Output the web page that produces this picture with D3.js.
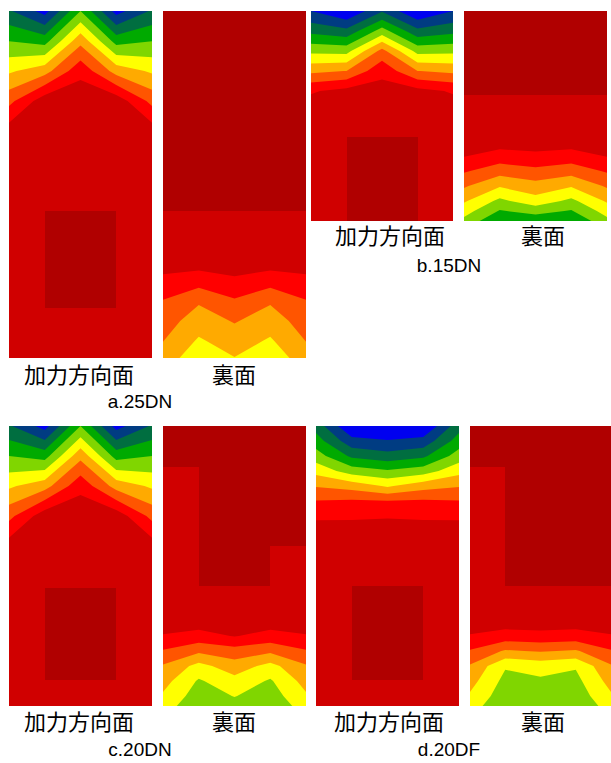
<!DOCTYPE html>
<html>
<head>
<meta charset="utf-8">
<script src="https://cdn.jsdelivr.net/npm/d3@7"></script>
<style>
  html, body { margin: 0; padding: 0; background: #fff; }
  svg { display: block; }
</style>
</head>
<body>
<script>
// Colour of each band, from the lowest level (0) to the peak level (10)
const bandColors = ["#0000f0", "#003c82", "#006e40", "#00aa00", "#80d600", "#ffff00",
                    "#ffaa00", "#ff5500", "#ff0000", "#d00000", "#b00000"];
const bandLevels = [1, 2, 3, 4, 5, 6, 7, 8, 9];

// Node columns across the specimen face (mm)
const nodeX = [0, 25, 50, 75, 100];

const caseLabels = ["a.25DN", "b.15DN", "c.20DN", "d.20DF"];
const faceLabels = ["加力方向面", "裏面"];
const specimenHeights = [250, 150, 200, 200];

// ---- a.25DN ----
const rowsA1 = [0, 21.6, 43.2, 64.8, 86.5, 108.1, 250];
const valsA1 = [
  [2.13, 0.6, 4.0, 0.6, 2.13],
  [3.99, 3.6, 6.69, 3.6, 3.99],
  [5.84, 6.6, 8.7, 6.6, 5.84],
  [7.7, 9.6, 9.7, 9.6, 7.7],
  [9.5, 9.6, 9.7, 9.6, 9.5],
  [9.6, 9.6, 9.7, 9.6, 9.6],
  [9.6, 9.6, 9.6, 9.6, 9.6]
];
const peakA1 = [[25, 75, 144.1, 214.0]];

const rowsA2 = [0, 180.1, 194.5, 208.9, 223.3, 237.8, 250];
const valsA2 = [
  [9.5, 9.5, 9.5, 9.5, 9.5],
  [9.5, 9.5, 9.5, 9.5, 9.5],
  [8.75, 8.44, 8.85, 8.44, 8.75],
  [7.95, 7.13, 7.88, 7.13, 7.95],
  [7.49, 6.47, 7.08, 6.47, 7.49],
  [7.02, 5.87, 6.47, 5.87, 7.02],
  [6.6, 5.3, 5.97, 5.3, 6.6]
];
const peakA2 = [[0, 100, 0, 144.1]];

// ---- b.15DN ----
const rowsB1 = [0, 14.3, 28.6, 42.9, 57.1, 71.4, 150];
const valsB1 = [
  [1.0, 0.0, 1.9, 0.0, 1.0],
  [2.72, 2.3, 4.43, 2.3, 2.72],
  [4.75, 4.66, 7.33, 4.66, 4.75],
  [6.77, 7.02, 8.7, 7.02, 6.77],
  [8.9, 9.3, 9.4, 9.3, 8.9],
  [9.5, 9.5, 9.5, 9.5, 9.5],
  [9.5, 9.5, 9.5, 9.5, 9.5]
];
const peakB1 = [[25, 75, 90, 150]];

const rowsB2 = [0, 92.9, 103.6, 114.3, 125, 135.7, 142.9, 150];
const valsB2 = [
  [9.5, 9.5, 9.5, 9.5, 9.5],
  [9.5, 9.5, 9.5, 9.5, 9.5],
  [9.05, 8.58, 8.79, 8.58, 9.05],
  [8.12, 7.43, 7.73, 7.43, 8.12],
  [7.13, 6.1, 6.6, 6.1, 7.13],
  [6.13, 4.75, 5.6, 4.75, 6.13],
  [5.43, 3.92, 4.33, 3.92, 5.43],
  [4.7, 3.1, 3.4, 3.1, 4.7]
];
const peakB2 = [[0, 100, 0, 60]];

// ---- c.20DN ----
const rowsC1 = [0, 21.4, 42.9, 64.3, 85.7, 107.1, 200];
const valsC1 = [
  [2.13, 0.6, 4.0, 0.6, 2.13],
  [3.99, 3.6, 6.69, 3.6, 3.99],
  [5.84, 6.6, 8.7, 6.6, 5.84],
  [7.7, 9.6, 9.7, 9.6, 7.7],
  [9.5, 9.6, 9.7, 9.6, 9.5],
  [9.6, 9.6, 9.7, 9.6, 9.6],
  [9.6, 9.6, 9.6, 9.6, 9.6]
];
const peakC1 = [[25, 75, 115.7, 181.4]];

const rowsC2 = [0, 139.3, 150, 160.7, 171.4, 182.1, 192.9, 200];
const valsC2 = [
  [9.5, 9.5, 9.5, 9.5, 9.5],
  [9.5, 9.5, 9.5, 9.5, 9.5],
  [8.93, 8.64, 9.05, 8.64, 8.93],
  [7.92, 7.2, 7.6, 7.2, 7.92],
  [6.9, 5.67, 6.55, 5.67, 6.9],
  [6.38, 4.88, 5.66, 4.88, 6.38],
  [5.86, 4.5, 5.04, 4.5, 5.86],
  [5.5, 4.2, 4.6, 4.2, 5.5]
];
const peakC2 = [[0, 100, 0, 29.3], [25, 100, 29.3, 85.7], [25, 75, 85.7, 114.3]];

// ---- d.20DF ----
const rowsD1 = [0, 10.7, 21.4, 32.1, 42.9, 53.6, 64.3, 75, 200];
const valsD1 = [
  [2.6, 0.0, -0.1, 0.0, 2.6],
  [3.47, 1.36, 1.08, 1.36, 3.47],
  [4.46, 2.8, 2.4, 2.8, 4.46],
  [5.67, 4.5, 4.12, 4.5, 5.67],
  [6.92, 6.6, 5.88, 6.6, 6.92],
  [8.05, 8.14, 8.06, 8.14, 8.05],
  [8.8, 8.82, 8.9, 8.82, 8.8],
  [9.5, 9.5, 9.5, 9.5, 9.5],
  [9.5, 9.5, 9.5, 9.5, 9.5]
];
const peakD1 = [[25, 75, 114.3, 181.4]];

const rowsD2 = [0, 139.3, 150, 160.7, 171.4, 182.1, 192.9, 200];
const valsD2 = [
  [9.5, 9.5, 9.5, 9.5, 9.5],
  [9.5, 9.5, 9.5, 9.5, 9.5],
  [8.93, 8.6, 8.7, 8.6, 8.93],
  [7.92, 6.88, 7.1, 6.88, 7.92],
  [6.9, 5.1, 5.4, 5.1, 6.9],
  [6.38, 4.7, 4.85, 4.7, 6.38],
  [5.86, 4.4, 4.55, 4.4, 5.86],
  [5.5, 4.1, 4.3, 4.1, 5.5]
];
const peakD2 = [[0, 100, 0, 29.3], [25, 100, 29.3, 114.3]];

// ---- layout ----
const W = 611, H = 763;
const panels = [
  { c: 0, f: 0, rows: rowsA1, vals: valsA1, peak: peakA1, box: { x: 9,   y: 11,  w: 143, h: 347 } },
  { c: 0, f: 1, rows: rowsA2, vals: valsA2, peak: peakA2, box: { x: 163, y: 11,  w: 143, h: 347 } },
  { c: 1, f: 0, rows: rowsB1, vals: valsB1, peak: peakB1, box: { x: 311, y: 11,  w: 142, h: 210 } },
  { c: 1, f: 1, rows: rowsB2, vals: valsB2, peak: peakB2, box: { x: 464, y: 11,  w: 143, h: 210 } },
  { c: 2, f: 0, rows: rowsC1, vals: valsC1, peak: peakC1, box: { x: 9,   y: 426, w: 143, h: 280 } },
  { c: 2, f: 1, rows: rowsC2, vals: valsC2, peak: peakC2, box: { x: 163, y: 426, w: 143, h: 280 } },
  { c: 3, f: 0, rows: rowsD1, vals: valsD1, peak: peakD1, box: { x: 316, y: 426, w: 143, h: 280 } },
  { c: 3, f: 1, rows: rowsD2, vals: valsD2, peak: peakD2, box: { x: 470, y: 426, w: 141, h: 280 } }
];
// label anchors: face label centres + baseline, case label centre + baseline
const labelPos = [
  { face: [79, 234],  faceY: 383, title: 140, titleY: 408 },
  { face: [390, 543], faceY: 244, title: 449, titleY: 272 },
  { face: [79, 234],  faceY: 730, title: 140, titleY: 756 },
  { face: [389, 543], faceY: 730, title: 449, titleY: 756 }
];

const svg = d3.select("body").append("svg").attr("width", W).attr("height", H);
const defs = svg.append("defs");

panels.forEach((p, i) => {
  const b = p.box;
  const hMm = specimenHeights[p.c];
  const x = d3.scaleLinear().domain([0, 100]).range([b.x, b.x + b.w]);
  const y = d3.scaleLinear().domain([0, hMm]).range([b.y, b.y + b.h]);
  // grid index -> mm (piecewise along the node rows)
  const colMm = d3.scaleLinear().domain(d3.range(nodeX.length)).range(nodeX);
  const rowMm = d3.scaleLinear().domain(d3.range(p.rows.length)).range(p.rows);

  const nx = nodeX.length, ny = p.rows.length;
  const contours = d3.contours().size([nx, ny]).thresholds(bandLevels)(p.vals.flat());
  const proj = d3.geoTransform({
    point(gx, gy) { this.stream.point(x(colMm(gx - 0.5)), y(rowMm(gy - 0.5))); }
  });
  const path = d3.geoPath(proj);

  const clipId = "clip" + i;
  defs.append("clipPath").attr("id", clipId)
    .append("rect").attr("x", b.x).attr("y", b.y).attr("width", b.w).attr("height", b.h);

  const g = svg.append("g").attr("clip-path", `url(#${clipId})`);
  g.append("rect").attr("x", b.x).attr("y", b.y).attr("width", b.w).attr("height", b.h)
    .attr("fill", bandColors[0]);
  g.selectAll("path.band").data(contours).join("path")
    .attr("class", "band")
    .attr("d", path)
    .attr("fill", d => bandColors[d.value]);
  g.selectAll("rect.peak").data(p.peak).join("rect")
    .attr("class", "peak")
    .attr("x", d => x(d[0])).attr("width", d => x(d[1]) - x(d[0]))
    .attr("y", d => y(d[2])).attr("height", d => y(d[3]) - y(d[2]))
    .attr("fill", bandColors[10])
    .attr("shape-rendering", "crispEdges");
});

// face labels and case captions
labelPos.forEach((lp, c) => {
  faceLabels.forEach((t, f) => {
    svg.append("text")
      .attr("x", lp.face[f]).attr("y", lp.faceY)
      .attr("text-anchor", "middle")
      .attr("font-family", "'Noto Sans CJK JP', sans-serif")
      .attr("font-size", 22)
      .attr("fill", "#000")
      .text(t);
  });
  svg.append("text")
    .attr("x", lp.title).attr("y", lp.titleY)
    .attr("text-anchor", "middle")
    .attr("font-family", "'Liberation Sans', Arial, sans-serif")
    .attr("font-size", 19)
    .attr("fill", "#000")
    .text(caseLabels[c]);
});
</script>
</body>
</html>
